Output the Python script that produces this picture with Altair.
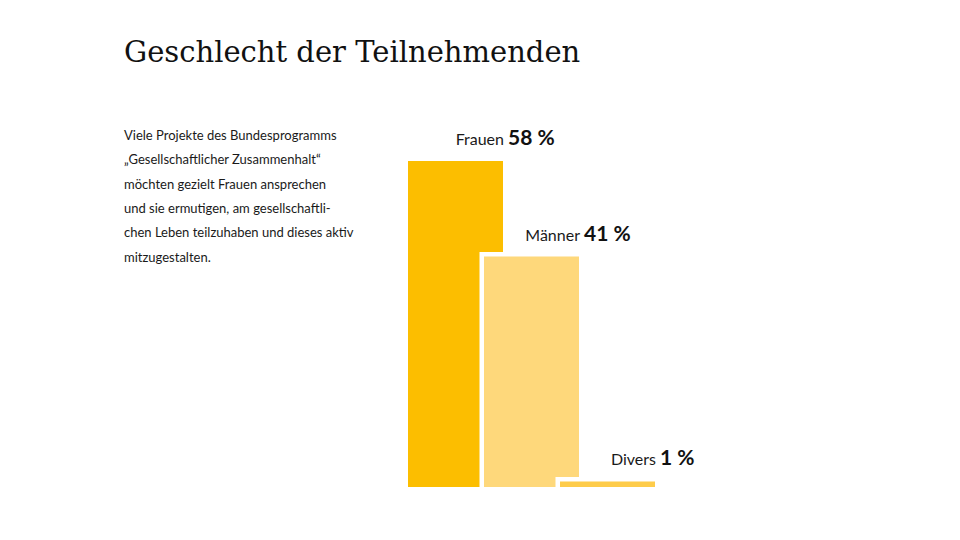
import altair as alt
import pandas as pd

categories = ["Frauen", "Männer", "Divers"]
values = [58, 41, 1]
value_labels = ["58 %", "41 %", "1 %"]
colors = ["#FCBE00", "#FED87B", "#FECC4A"]

title_text = "Geschlecht der Teilnehmenden"
paragraph = [
    "Viele Projekte des Bundesprogramms",
    "„Gesellschaftlicher Zusammenhalt“",
    "möchten gezielt Frauen ansprechen",
    "und sie ermutigen, am gesellschaftli-",
    "chen Leben teilzuhaben und dieses aktiv",
    "mitzugestalten.",
]

step = 76 / 95
df = pd.DataFrame({"cat": categories, "value": values, "label": value_labels, "color": colors})
df["start"] = [i * step for i in range(len(categories))]
df["end"] = df["start"] + 1
df["zero"] = 0

xs = alt.Scale(domain=[0, 1], range=[400, 495], nice=False, zero=False)
ys = alt.Scale(domain=[0, 58], range=[479, 153], nice=False)

SANS = "Lato"

layers = []
for c in categories:
    base = alt.Chart(df).transform_filter(alt.datum.cat == c)
    enc = dict(
        x=alt.X("start:Q", scale=xs, axis=None),
        x2="end:Q",
        y=alt.Y("value:Q", scale=ys, axis=None),
        y2="zero:Q",
    )
    white = base.mark_rect(color="white", xOffset=-4.5, yOffset=-4.5).encode(**enc)
    fill = base.mark_rect().encode(color=alt.Color("color:N", scale=None), **enc)
    layers += [white, fill]

names = alt.Chart(df).mark_text(
    align="right", baseline="alphabetic", dx=1, dy=-16, font=SANS, fontSize=16, color="#1a1a1a"
).encode(x=alt.X("end:Q", scale=xs, axis=None), y=alt.Y("value:Q", scale=ys, axis=None), text="cat:N")

nums = alt.Chart(df).mark_text(
    align="left", baseline="alphabetic", dx=5, dy=-16, font=SANS, fontSize=21, fontWeight="bold", color="#111111"
).encode(x=alt.X("end:Q", scale=xs, axis=None), y=alt.Y("value:Q", scale=ys, axis=None), text="label:N")

dummy = pd.DataFrame({"t": [title_text]})
title = alt.Chart(dummy).mark_text(
    align="left", baseline="alphabetic", font="DejaVu Serif", fontSize=29, color="#111111"
).encode(x=alt.value(116), y=alt.value(54), text="t:N")

para = alt.Chart(dummy).mark_text(
    align="left", baseline="alphabetic", font=SANS, fontSize=13, lineHeight=24.3, color="#1a1a1a",
    text=paragraph,
).encode(x=alt.value(116), y=alt.value(132))

chart = alt.layer(*layers, names, nums, title, para).properties(
    width=944, height=524, autosize=alt.AutoSizeParams(type="none"), padding=0
).configure_view(stroke=None)

chart.save("out.html", embed_options={"renderer": "svg", "actions": False})
